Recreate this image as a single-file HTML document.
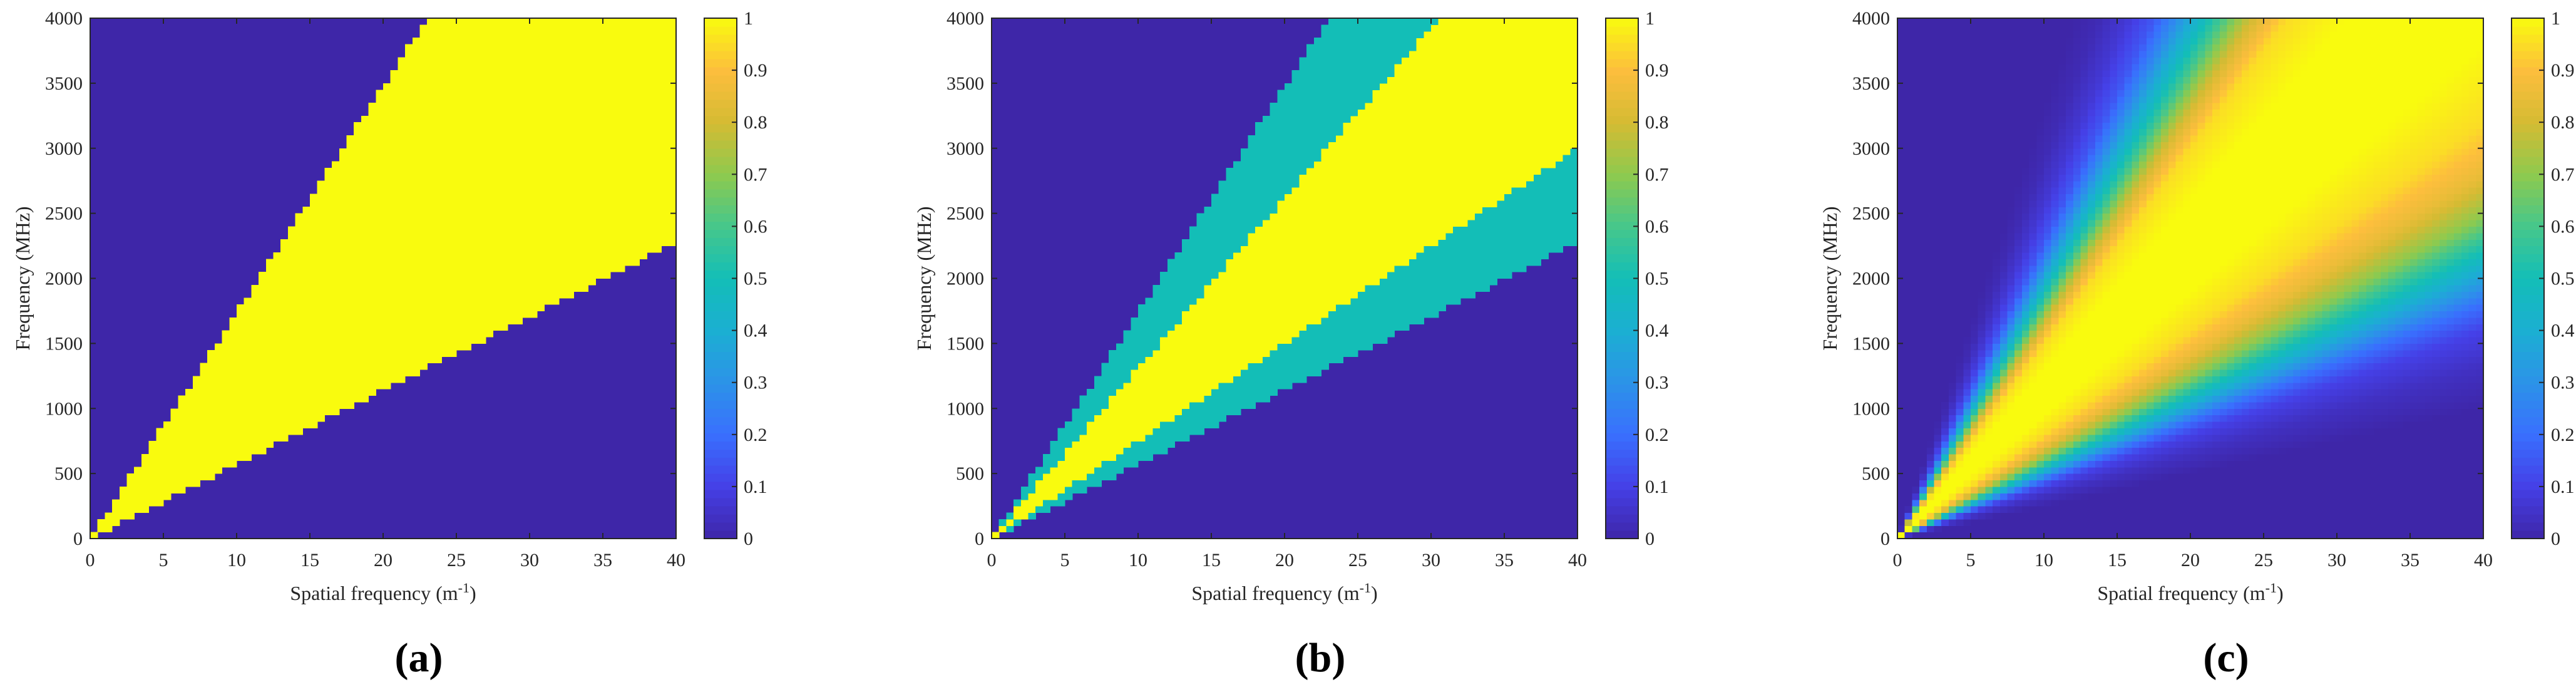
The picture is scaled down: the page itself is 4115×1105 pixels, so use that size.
<!DOCTYPE html>
<html><head><meta charset="utf-8">
<style>
html,body{margin:0;padding:0;background:#fff;}
body{width:4115px;height:1105px;overflow:hidden;}
svg{display:block;font-family:"Liberation Serif",serif;}
</style></head>
<body>
<svg id="fig" width="4115" height="1105" viewBox="0 0 4115 1105" xmlns="http://www.w3.org/2000/svg"></svg>
<script>
// ---- data ----
const kTicks = [0,5,10,15,20,25,30,35,40];
const fTicks = [0,500,1000,1500,2000,2500,3000,3500,4000];
const cbTicks = [0,0.1,0.2,0.3,0.4,0.5,0.6,0.7,0.8,0.9,1];
const cbTickLabels = ["0","0.1","0.2","0.3","0.4","0.5","0.6","0.7","0.8","0.9","1"];
const panelLabels = ["(a)","(b)","(c)"];
const nK = 80, nF = 80, kMax = 40, fMax = 4000;
// panel (a): band edges in f/k (MHz·m)
const bandA = [57, 174];
// panel (b): outer band (value 0.5) and inner band (value 1)
const bandBOuter = [57, 174];
const bandBInner = [75, 131];
const bandBValues = [0, 0.5, 1];
// panel (c): smooth profile vs ratio f/k
const profRatio = [0, 25, 33, 40, 45, 50, 55, 62, 70, 80, 95, 130, 150, 165, 180, 193, 210, 228, 255, 290, 330, 100000];
const profValue = [0, 0, 0.04, 0.1, 0.2, 0.35, 0.5, 0.7, 0.85, 0.95, 1, 1, 0.95, 0.8, 0.6, 0.45, 0.28, 0.15, 0.07, 0.02, 0, 0];

// parula colormap anchors
const parula = [[62,38,168],[69,64,231],[57,111,254],[44,147,232],[27,175,210],[19,190,183],[70,199,139],[142,202,78],[213,187,51],[253,190,61],[249,251,14]];
function cmap(v){v=Math.max(0,Math.min(1,v));const t=v*10;const i=Math.min(9,Math.floor(t));const u=t-i;const a=parula[i],b=parula[i+1];
 return `rgb(${Math.round(a[0]+(b[0]-a[0])*u)},${Math.round(a[1]+(b[1]-a[1])*u)},${Math.round(a[2]+(b[2]-a[2])*u)})`;}
function interp(xs,ys,x){for(let i=1;i<xs.length;i++){if(x<=xs[i]){const u=(x-xs[i-1])/(xs[i]-xs[i-1]);return ys[i-1]+(ys[i]-ys[i-1])*u;}}return ys[ys.length-1];}

const NS="http://www.w3.org/2000/svg";
const svg=document.getElementById('fig');
function el(tag,attrs,parent){const e=document.createElementNS(NS,tag);for(const k in attrs)e.setAttribute(k,attrs[k]);(parent||svg).appendChild(e);return e;}

const axTop=29, axBot=860, axW=936;
const lefts=[144,1584,3031];

function valueA(k,f){const r=f/k;return (r>=bandA[0]&&r<=bandA[1])?1:0;}
function valueB(k,f){const r=f/k;if(r>=bandBInner[0]&&r<=bandBInner[1])return bandBValues[2];if(r>=bandBOuter[0]&&r<=bandBOuter[1])return bandBValues[1];return bandBValues[0];}
function valueC(k,f){return interp(profRatio,profValue,f/k);}
const valueFns=[valueA,valueB,valueC];

lefts.forEach((L,p)=>{
 const g=el('g',{});
 
 
 const xS=k=>L+k/kMax*axW;
 const yS=f=>axBot-f/fMax*(axBot-axTop);
 const hm=el('g',{'shape-rendering':'crispEdges'},g);
 
 
 el('rect',{x:L,y:axTop,width:axW,height:axBot-axTop,fill:cmap(0)},hm);
 for(let i=0;i<nK;i++){
  const k0=i*kMax/nK,k1=(i+1)*kMax/nK,kc=(k0+k1)/2;
  for(let j=0;j<nF;j++){
   const f0=j*fMax/nF,f1=(j+1)*fMax/nF,fc=(f0+f1)/2;
   const v=valueFns[p](kc,fc);
   if(v<=0.001)continue;
   const r=el('rect',{x:xS(k0).toFixed(2),y:yS(f1).toFixed(2),width:(xS(k1)-xS(k0)+0.6).toFixed(2),height:(yS(f0)-yS(f1)+0.6).toFixed(2),fill:cmap(v)},hm);
   
   
  }
 }
 const box=el('rect',{x:L,y:axTop,width:axW,height:axBot-axTop,fill:'none',stroke:'#262626','stroke-width':2},g);
 
 
 kTicks.forEach(k=>{
  const x=xS(k);
  el('line',{x1:x,y1:axBot,x2:x,y2:axBot-9,stroke:'#262626','stroke-width':2},g);
  el('line',{x1:x,y1:axTop,x2:x,y2:axTop+9,stroke:'#262626','stroke-width':2},g);
  const t=el('text',{x:x,y:904,'font-size':30,'text-anchor':'middle',fill:'#262626'},g);
  t.textContent=k;
  
  
 });
 fTicks.forEach(f=>{
  const y=yS(f);
  el('line',{x1:L,y1:y,x2:L+9,y2:y,stroke:'#262626','stroke-width':2},g);
  el('line',{x1:L+axW,y1:y,x2:L+axW-9,y2:y,stroke:'#262626','stroke-width':2},g);
  const t=el('text',{x:L-12,y:y+10,'font-size':30,'text-anchor':'end',fill:'#262626'},g);
  t.textContent=f;
  
  
 });
 const xl=el('text',{x:L+axW/2,y:958,'font-size':32,'text-anchor':'middle',fill:'#262626'},g);
 xl.innerHTML='Spatial frequency (m<tspan dy="-12" font-size="22">-1</tspan><tspan dy="12">)</tspan>';
 
 
 const yl=el('text',{x:0,y:0,'font-size':32,'text-anchor':'middle',fill:'#262626',transform:`translate(${L-97},${(axTop+axBot)/2}) rotate(-90)`},g);
 yl.textContent='Frequency (MHz)';
 
 
 // colorbar
 const cbL=L+981,cbW=52;
 const cb=el('g',{'shape-rendering':'crispEdges'},g);
 
 
 const nSeg=64;
 for(let s=0;s<nSeg;s++){
  const y0=axBot-(s+1)/nSeg*(axBot-axTop),h=(axBot-axTop)/nSeg+0.6;
  el('rect',{x:cbL,y:y0,width:cbW,height:h,fill:cmap((s+0.5)/nSeg)},cb);
 }
 el('rect',{x:cbL,y:axTop,width:cbW,height:axBot-axTop,fill:'none',stroke:'#262626','stroke-width':2},g);
 cbTicks.forEach((v,i)=>{
  const y=axBot-v*(axBot-axTop);
  el('line',{x1:cbL+cbW,y1:y,x2:cbL+cbW-8,y2:y,stroke:'#262626','stroke-width':2},g);
  const t=el('text',{x:cbL+cbW+11,y:y+10,'font-size':30,fill:'#262626'},g);
  t.textContent=cbTickLabels[i];
  
  
 });
 const pl=el('text',{x:L+axW/2+57,y:1072,'font-size':66,'font-weight':'bold','text-anchor':'middle',fill:'#000'},g);
 pl.textContent=panelLabels[p];
 
 
});
</script>
</body></html>
